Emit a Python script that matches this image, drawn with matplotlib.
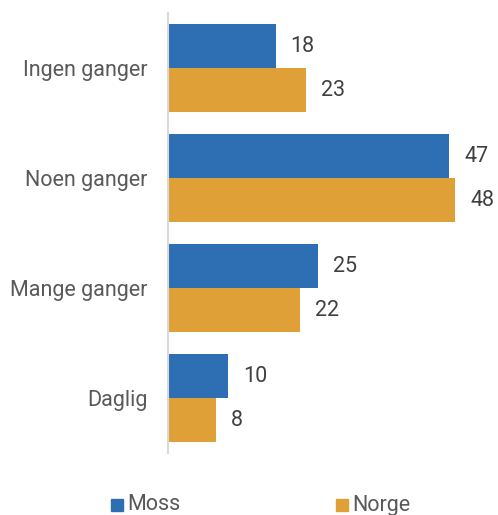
import matplotlib
matplotlib.use("Agg")
import matplotlib.pyplot as plt
from matplotlib.patches import Rectangle

categories = ["Ingen ganger", "Noen ganger", "Mange ganger", "Daglig"]
moss = [18, 47, 25, 10]
norge = [23, 48, 22, 8]
series_names = ["Moss", "Norge"]
colors = ["#2E6FB4", "#DFA038"]

plt.rcParams['font.family'] = ['Roboto', 'DejaVu Sans']
W, H = 498, 515
fig = plt.figure(figsize=(W/100, H/100), dpi=100)
ax = fig.add_axes([168/W, 1-453/H, (W-168)/W, 440/H])

y = list(range(len(categories)))
bh = 0.4
b1 = ax.barh([i - bh/2 for i in y], moss, height=bh, color=colors[0])
b2 = ax.barh([i + bh/2 for i in y], norge, height=bh, color=colors[1])
ax.set_ylim(3.5, -0.5)
ax.set_xlim(0, (W-168)/5.98)

fs = 15.5
for bars, vals in ((b1, moss), (b2, norge)):
    for b, v in zip(bars, vals):
        ax.annotate(str(v), (b.get_width(), b.get_y() + b.get_height()/2),
                    xytext=(15*0.72, 0), textcoords='offset points',
                    ha='left', va='center', fontsize=fs, color='#404040')

ax.set_yticks(y)
ax.set_yticklabels(categories, fontsize=fs, color='#595959')
ax.tick_params(axis='y', length=0, pad=15)
ax.set_xticks([])
for s in ['top', 'right', 'bottom']:
    ax.spines[s].set_visible(False)
ax.spines['left'].set_color('#D9D9D9')
ax.spines['left'].set_linewidth(1.5)

# legend
for (xs, name, c) in ((111, "Moss", colors[0]), (336, "Norge", colors[1])):
    fig.patches.append(Rectangle((xs/W, 1-511/H), 12/W, 12/H, transform=fig.transFigure,
                                 color=c, figure=fig))
    fig.text((xs+16)/W, 1-505/H, name, ha='left', va='center', fontsize=fs, color='#595959')

fig.savefig("out.png", dpi=100)
